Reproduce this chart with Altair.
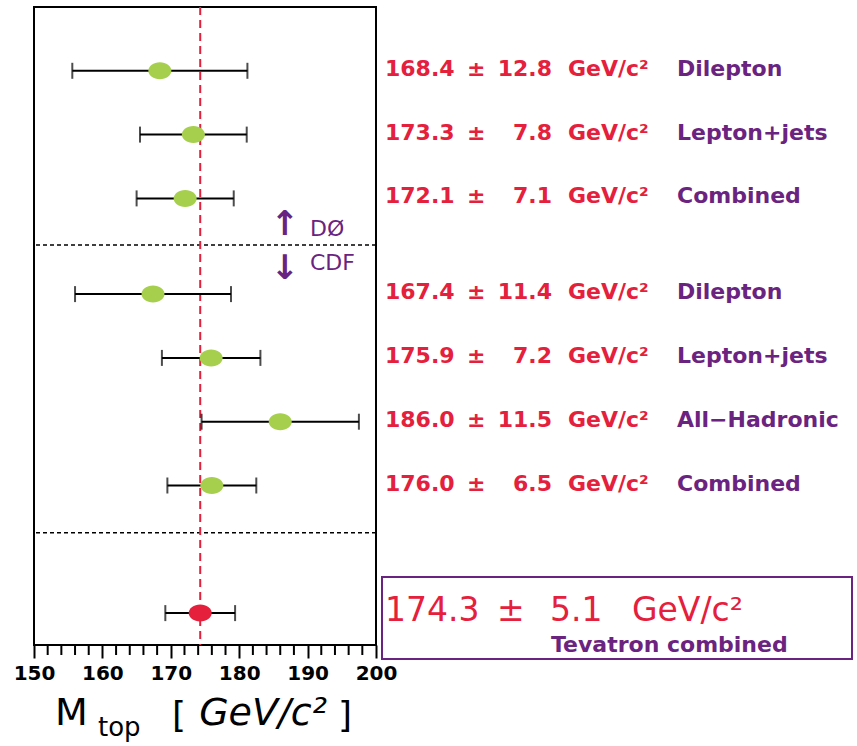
import altair as alt
import pandas as pd

# ---- data ----
groups = ["DØ", "DØ", "DØ", "CDF", "CDF", "CDF", "CDF"]
channels = ["Dilepton", "Lepton+jets", "Combined", "Dilepton", "Lepton+jets", "All−Hadronic", "Combined"]
masses = [168.4, 173.3, 172.1, 167.4, 175.9, 186.0, 176.0]
errors = [12.8, 7.8, 7.1, 11.4, 7.2, 11.5, 6.5]
rows = [1.0, 2.0, 3.0, 4.5, 5.5, 6.5, 7.5]

tev_mass = [174.3]
tev_error = [5.1]
tev_row = [9.5]
tev_label = ["Tevatron combined"]

separator_rows = [3.73, 8.24]
major_ticks = [150, 160, 170, 180, 190, 200]
minor_ticks = [152, 154, 156, 158, 162, 164, 166, 168, 172, 174, 176, 178,
               182, 184, 186, 188, 192, 194, 196, 198]

RED = "#e4203c"
PURPLE = "#6b2380"
GREEN = "#a6cf4e"
FONT = "DejaVu Sans"

df = pd.DataFrame({"group": groups, "channel": channels, "mass": masses,
                   "err": errors, "row": rows})
df["lo"] = df["mass"] - df["err"]
df["hi"] = df["mass"] + df["err"]
df["mass_txt"] = [f"{m:.1f}" for m in masses]
df["err_txt"] = [f"{e:.1f}" for e in errors]

tev = pd.DataFrame({"mass": tev_mass, "err": tev_error, "row": tev_row, "label": tev_label})
tev["lo"] = tev["mass"] - tev["err"]
tev["hi"] = tev["mass"] + tev["err"]
tev["mass_txt"] = [f"{m:.1f}" for m in tev_mass]
tev["err_txt"] = [f"{e:.1f}" for e in tev_error]

sep = pd.DataFrame({"row": separator_rows})
minor = pd.DataFrame({"v": minor_ticks})

xs = alt.Scale(domain=[150, 200], nice=False, zero=False)
ys = alt.Scale(domain=[0, 10], reverse=True, nice=False, zero=False)
ax = alt.Axis(values=major_ticks, tickSize=13, tickWidth=2, tickColor="black",
              labelFontSize=20, labelFontWeight="bold", labelFont=FONT,
              labelColor="black", labelPadding=5, labelFlush=False,
              labelOverlap=False, domain=False, grid=False, title=None)


def X(field):
    return alt.X(field, type="quantitative", scale=xs, axis=ax, title=None)


def Y(field):
    return alt.Y(field, type="quantitative", scale=ys, axis=None)


ellipse = "M -1 0 A 1 0.74 0 1 0 1 0 A 1 0.74 0 1 0 -1 0 Z"

# separators and reference line
sep_l = alt.Chart(sep).mark_rule(color="black", strokeWidth=1.5, strokeDash=[4, 3]).encode(y=Y("row"))
vline = alt.Chart(tev).mark_rule(color=RED, strokeWidth=2, strokeDash=[8, 5]).encode(x=X("mass"))

minor_l = alt.Chart(minor).mark_rule(color="black", strokeWidth=2).encode(
    x=X("v"), y=alt.value(638), y2=alt.value(648))

# measurements
base = alt.Chart(df)
bars = base.mark_rule(color="black", strokeWidth=2).encode(x=X("lo"), x2="hi", y=Y("row"))
cap_lo = base.mark_tick(orient="vertical", size=16, thickness=2, color="black").encode(x=X("lo"), y=Y("row"))
cap_hi = base.mark_tick(orient="vertical", size=16, thickness=2, color="black").encode(x=X("hi"), y=Y("row"))
pts = base.mark_point(shape=ellipse, filled=True, size=529, opacity=1, color=GREEN).encode(x=X("mass"), y=Y("row"))

tbase = alt.Chart(tev)
tbars = tbase.mark_rule(color="black", strokeWidth=2).encode(x=X("lo"), x2="hi", y=Y("row"))
tcap_lo = tbase.mark_tick(orient="vertical", size=16, thickness=2, color="black").encode(x=X("lo"), y=Y("row"))
tcap_hi = tbase.mark_tick(orient="vertical", size=16, thickness=2, color="black").encode(x=X("hi"), y=Y("row"))
tpts = tbase.mark_point(shape=ellipse, filled=True, size=529, opacity=1, color=RED).encode(x=X("mass"), y=Y("row"))

# right-hand text
txt_kw = dict(baseline="middle", font=FONT, fontWeight="bold", fontSize=22, dy=-2)
t_val = base.mark_text(align="left", color=RED, **txt_kw).encode(x=alt.value(351), y=Y("row"), text="mass_txt:N")
t_pm = base.mark_text(align="left", color=RED, **txt_kw).encode(x=alt.value(433), y=Y("row"), text=alt.value("±"))
t_err = base.mark_text(align="right", color=RED, **txt_kw).encode(x=alt.value(518), y=Y("row"), text="err_txt:N")
t_unit = base.mark_text(align="left", color=RED, **txt_kw).encode(x=alt.value(534), y=Y("row"), text=alt.value("GeV/c²"))
t_lab = base.mark_text(align="left", color=PURPLE, **txt_kw).encode(x=alt.value(643), y=Y("row"), text="channel:N")

# Tevatron box and text
box = tbase.mark_rect(fill=None, stroke=PURPLE, strokeWidth=2).encode(
    x=alt.value(348), x2=alt.value(818), y=alt.value(570), y2=alt.value(652))
big_kw = dict(baseline="middle", font=FONT, fontSize=33, color=RED, dy=-2)
tt_val = tbase.mark_text(align="left", **big_kw).encode(x=alt.value(351), y=Y("row"), text="mass_txt:N")
tt_pm = tbase.mark_text(align="left", **big_kw).encode(x=alt.value(463), y=Y("row"), text=alt.value("±"))
tt_err = tbase.mark_text(align="left", **big_kw).encode(x=alt.value(516), y=Y("row"), text="err_txt:N")
tt_unit = tbase.mark_text(align="left", **big_kw).encode(x=alt.value(598), y=Y("row"), text=alt.value("GeV/c²"))
tt_lab = tbase.mark_text(align="left", baseline="middle", font=FONT, fontWeight="bold", fontSize=22,
                         color=PURPLE, dy=32).encode(x=alt.value(517), y=Y("row"), text="label:N")

# DØ / CDF markers
grp_kw = dict(baseline="middle", font=FONT, color=PURPLE)
first_sep = alt.Chart(sep).transform_filter("datum.row < 5")
up_arrow = first_sep.mark_text(align="center", fontSize=34, fontWeight="bold", dy=-20, **grp_kw).encode(
    x=alt.value(251), y=Y("row"), text=alt.value("↑"))
d0_txt = first_sep.mark_text(align="left", fontSize=22, dy=-16, **grp_kw).encode(
    x=alt.value(276), y=Y("row"), text=alt.value("DØ"))
down_arrow = first_sep.mark_text(align="center", fontSize=34, fontWeight="bold", dy=24, **grp_kw).encode(
    x=alt.value(251), y=Y("row"), text=alt.value("↓"))
cdf_txt = first_sep.mark_text(align="left", fontSize=22, dy=18, **grp_kw).encode(
    x=alt.value(276), y=Y("row"), text=alt.value("CDF"))

# axis title pieces
at_kw = dict(baseline="alphabetic", font=FONT, color="black")
ttl_m = tbase.mark_text(align="left", fontSize=38, **at_kw).encode(x=alt.value(21), y=alt.value(718), text=alt.value("M"))
ttl_top = tbase.mark_text(align="left", fontSize=26, **at_kw).encode(x=alt.value(64), y=alt.value(729), text=alt.value("top"))
ttl_lb = tbase.mark_text(align="right", fontSize=36, **at_kw).encode(x=alt.value(152), y=alt.value(720), text=alt.value("["))
ttl_unit = tbase.mark_text(align="center", fontSize=38, fontStyle="italic", **at_kw).encode(x=alt.value(229), y=alt.value(718), text=alt.value("GeV/c²"))
ttl_rb = tbase.mark_text(align="left", fontSize=36, **at_kw).encode(x=alt.value(304), y=alt.value(720), text=alt.value("]"))

chart = alt.layer(
    sep_l, vline, minor_l,
    bars, cap_lo, cap_hi, pts,
    tbars, tcap_lo, tcap_hi, tpts,
    t_val, t_pm, t_err, t_unit, t_lab,
    box, tt_val, tt_pm, tt_err, tt_unit, tt_lab,
    up_arrow, d0_txt, down_arrow, cdf_txt,
    ttl_m, ttl_top, ttl_lb, ttl_unit, ttl_rb,
).properties(
    width=342, height=638,
    autosize=alt.AutoSizeParams(type="none"),
    padding={"left": 34, "top": 7, "right": 481, "bottom": 101},
    background="white",
).configure_view(stroke="black", strokeWidth=2)

chart.save("out.html", embed_options={"renderer": "svg", "actions": False})
